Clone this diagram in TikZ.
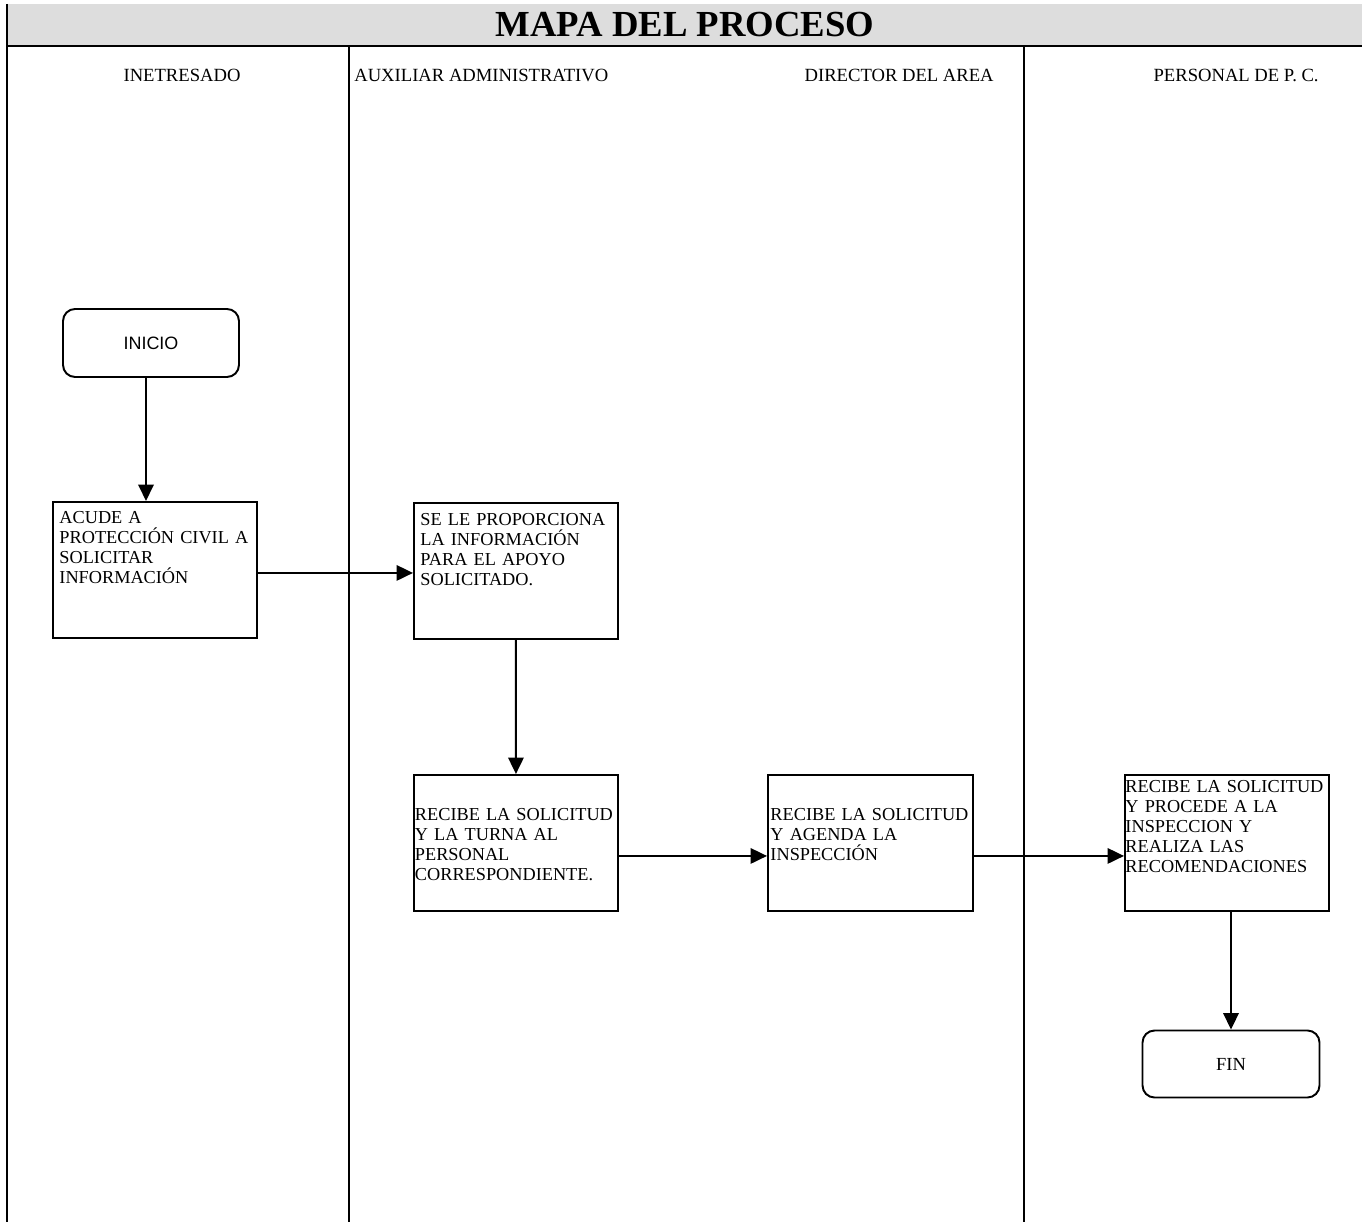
\documentclass[tikz,border=0pt]{standalone}
\usepackage{fontspec}
\setmainfont{Liberation Serif}
\newfontfamily\sansfuente{Liberation Sans}
\usetikzlibrary{arrows.meta,positioning}
\definecolor{bandaGris}{HTML}{DDDDDD}
\definecolor{trazoNegro}{HTML}{000000}

\begin{document}
\begin{tikzpicture}[x=0.02cm,y=-0.02cm,
 titulo/.style={font=\bfseries\fontsize{20.9}{24}\selectfont,inner sep=0pt},
 carrilnom/.style={font=\fontsize{10.6}{12}\selectfont,inner sep=0pt},
 carril/.style={line width=1.1pt,draw=trazoNegro},
 terminal/.style={rounded corners=0.24cm,draw=trazoNegro,line width=1.1pt,fill=white,align=center,minimum width=3.52cm,minimum height=1.36cm},
 proceso/.style={draw=trazoNegro,line width=1.1pt,fill=white,anchor=north west,align=left,inner ysep=0pt,font=\fontsize{10.4}{11.3}\selectfont},
 flecha/.style={-{Triangle[length=3.3mm,width=3.1mm]},line width=1.1pt,draw=trazoNegro}
]
\useasboundingbox (0,0) rectangle (1362,1222);
\fill[bandaGris] (7,4) rectangle (1362,46);
\node[titulo] (mapa) at (685,25) {MAPA DEL PROCESO};
\draw[carril] (7,4) -- (7,1222);
\draw[carril] (7,46) -- (1362,46);
\draw[carril] (349,46) -- (349,1222);
\draw[carril] (1024,46) -- (1024,1222);

\node[carrilnom,anchor=base] (interesado) at (182,82) {INETRESADO};
\node[carrilnom,anchor=base west] (auxiliar) at (354,82) {AUXILIAR ADMINISTRATIVO};
\node[carrilnom,anchor=base east] (director) at (994,82) {DIRECTOR DEL AREA};
\node[carrilnom,anchor=base east] (personal) at (1319,82) {PERSONAL DE P. C.};

\node[terminal,font=\sansfuente\fontsize{10.2}{12}\selectfont] (inicio) at (151,343) {INICIO};
\node[proceso,inner xsep=0.13cm,text width=3.82cm,text height=0.44cm,text depth=2.28cm] (acude) at (52,501) {ACUDE A\\PROTECCIÓN CIVIL A\\SOLICITAR\\INFORMACIÓN};
\node[proceso,inner xsep=0.13cm,text width=3.82cm,text height=0.46cm,text depth=2.26cm] (proporciona) at (413,502) {SE LE PROPORCIONA\\LA INFORMACIÓN\\PARA EL APOYO\\SOLICITADO.};
\node[proceso,inner xsep=0.02cm,text width=4.04cm,text height=0.92cm,text depth=1.80cm] (turna) at (413,774) {RECIBE LA SOLICITUD\\Y LA TURNA AL\\PERSONAL\\CORRESPONDIENTE.};
\node[proceso,inner xsep=0.05cm,text width=4.00cm,text height=0.92cm,text depth=1.80cm] (agenda) at (767,774) {RECIBE LA SOLICITUD\\Y AGENDA LA\\INSPECCIÓN};
\node[proceso,inner xsep=0.01cm,text width=4.06cm,text height=0.36cm,text depth=2.36cm] (inspeccion) at (1124,774) {RECIBE LA SOLICITUD\\Y PROCEDE A LA\\INSPECCION Y\\REALIZA LAS\\RECOMENDACIONES};
\node[terminal,minimum width=3.54cm,minimum height=1.34cm,font=\fontsize{10.5}{12}\selectfont] (fin) at (1231,1064) {FIN};

\draw[flecha] ([xshift=-0.1cm]inicio.south) -- ([xshift=-0.1cm]inicio.south |- acude.north);
\draw[flecha] ([yshift=-0.06cm]acude.east) -- ([yshift=-0.06cm]acude.east -| proporciona.west);
\draw[flecha] (proporciona.south) -- (turna.north);
\draw[flecha] ([yshift=-0.26cm]turna.east) -- ([yshift=-0.26cm]turna.east -| agenda.west);
\draw[flecha] ([yshift=-0.26cm]agenda.east) -- ([yshift=-0.26cm]agenda.east -| inspeccion.west);
\draw[flecha] (fin.north |- inspeccion.south) -- (fin.north);
\end{tikzpicture}
\end{document}
